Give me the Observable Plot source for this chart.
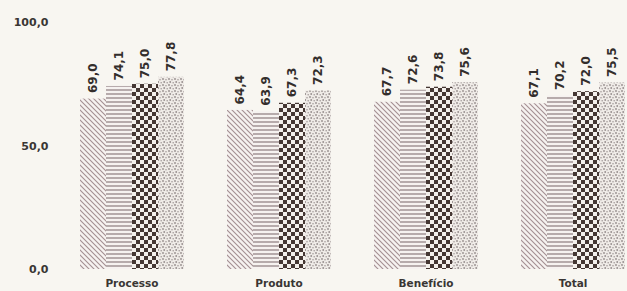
<!DOCTYPE html>
<html>
<head>
<meta charset="utf-8">
<script src="https://cdn.jsdelivr.net/npm/d3@7"></script>
<script src="https://cdn.jsdelivr.net/npm/@observablehq/plot@0.6"></script>
<style>
  html, body { margin: 0; padding: 0; background: #f8f6f1; }
  #chart svg { background: #f8f6f1; overflow: visible; }
</style>
</head>
<body>
<div id="chart"></div>
<script>
const categories = ["Processo", "Produto", "Benefício", "Total"];
const series = ["Série 1", "Série 2", "Série 3", "Série 4"];
const values = {
  "Processo":  [69.0, 74.1, 75.0, 77.8],
  "Produto":   [64.4, 63.9, 67.3, 72.3],
  "Benefício": [67.7, 72.6, 73.8, 75.6],
  "Total":     [67.1, 70.2, 72.0, 75.5]
};
const yTicks = [0, 50, 100];
const patternIds = ["pat-diag", "pat-horiz", "pat-check", "pat-dots"];

const data = categories.flatMap(c => series.map((s, i) => ({category: c, series: s, value: values[c][i]})));
const fmt = v => v.toFixed(1).replace(".", ",");

const plot = Plot.plot({
  width: 627,
  height: 291,
  marginLeft: 78,
  marginRight: 0,
  marginTop: 22,
  marginBottom: 22,
  style: {background: "#f8f6f1", fontFamily: "DejaVu Sans, Verdana, sans-serif"},
  fx: {domain: categories, padding: 0.27, label: null},
  x: {domain: series, padding: 0, axis: null},
  y: {domain: [0, 100], axis: null},
  color: {domain: series, range: patternIds.map(id => `url(#${id})`)},
  marks: [
    Plot.axisY({ticks: yTicks, tickFormat: fmt, tickSize: 0, tickPadding: 30, fontSize: 11, fontWeight: "bold", fill: "#3a3634", label: null}),
    Plot.axisFx({anchor: "bottom", tickSize: 0, tickPadding: 10, fontSize: 10.5, fontWeight: "bold", fill: "#3a3634", label: null}),
    Plot.barY(data, {fx: "category", x: "series", y: "value", fill: "series", inset: 0}),
    Plot.text(data, {fx: "category", x: "series", y: "value", text: d => fmt(d.value), rotate: -90, textAnchor: "start", dy: -6, fontSize: 12, fontWeight: "bold", fill: "#332e2c"})
  ]
});

const ns = "http://www.w3.org/2000/svg";
const defs = document.createElementNS(ns, "defs");
defs.innerHTML = `
<pattern id="pat-diag" patternUnits="userSpaceOnUse" width="5" height="5">
  <rect width="5" height="5" fill="#f6f2f0"/>
  <path d="M0,0 L5,5 M-1,4 L1,6 M4,-1 L6,1" stroke="#a48f92" stroke-width="1.1"/>
</pattern>
<pattern id="pat-horiz" patternUnits="userSpaceOnUse" width="4" height="4">
  <rect width="4" height="4" fill="#f6f2f0"/>
  <path d="M0,2 L4,2" stroke="#8c7c7e" stroke-width="1.2"/>
</pattern>
<pattern id="pat-check" patternUnits="userSpaceOnUse" width="8" height="8">
  <rect width="8" height="8" fill="#f4f0ec"/>
  <rect x="0" y="0" width="4" height="4" fill="#453733"/>
  <rect x="4" y="4" width="4" height="4" fill="#453733"/>
</pattern>
<pattern id="pat-dots" patternUnits="userSpaceOnUse" width="6" height="6">
  <rect width="6" height="6" fill="#efebe7"/>
  <circle cx="1" cy="1" r="0.9" fill="#968d8d"/>
  <circle cx="4" cy="1.8" r="0.8" fill="#a39a9a"/>
  <circle cx="2.2" cy="4" r="0.9" fill="#968d8d"/>
  <circle cx="5.2" cy="4.8" r="0.8" fill="#a39a9a"/>
</pattern>`;
plot.insertBefore(defs, plot.firstChild);
document.getElementById("chart").appendChild(plot);
</script>
</body>
</html>
